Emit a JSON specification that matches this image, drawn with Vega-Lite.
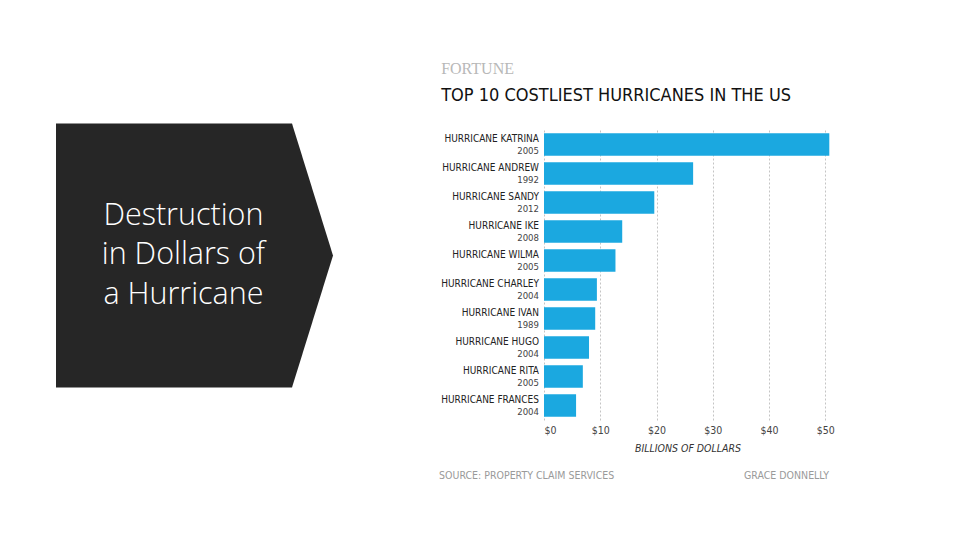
{
  "$schema": "https://vega.github.io/schema/vega-lite/v6.json",
  "background": "white",
  "padding": {"left": 56, "top": 60, "right": 0, "bottom": 0},
  "config": {"view": {"stroke": null}},
  "datasets": {
    "hurricanes": [
      {"name": "HURRICANE KATRINA", "year": "2005", "cost": 50.7},
      {"name": "HURRICANE ANDREW", "year": "1992", "cost": 26.5},
      {"name": "HURRICANE SANDY", "year": "2012", "cost": 19.6},
      {"name": "HURRICANE IKE", "year": "2008", "cost": 13.9},
      {"name": "HURRICANE WILMA", "year": "2005", "cost": 12.7},
      {"name": "HURRICANE CHARLEY", "year": "2004", "cost": 9.4},
      {"name": "HURRICANE IVAN", "year": "1989", "cost": 9.1},
      {"name": "HURRICANE HUGO", "year": "2004", "cost": 8.0},
      {"name": "HURRICANE RITA", "year": "2005", "cost": 6.9},
      {"name": "HURRICANE FRANCES", "year": "2004", "cost": 5.7}
    ],
    "shape": [
      {"px": 0, "top": 0, "bottom": 1},
      {"px": 0.852, "top": 0, "bottom": 1},
      {"px": 1, "top": 0.5, "bottom": 0.5}
    ],
    "caption": [
      {"caption": "Destruction\nin Dollars of\na Hurricane"}
    ],
    "footer": [
      {"note": "SOURCE: PROPERTY CLAIM SERVICES", "side": "left"},
      {"note": "GRACE DONNELLY", "side": "right"}
    ]
  },
  "spacing": 106,
  "hconcat": [
    {
      "width": 277,
      "height": 290,
      "layer": [
        {
          "data": {"name": "shape"},
          "mark": {"type": "area", "color": "#262626", "opacity": 1, "interpolate": "linear"},
          "encoding": {
            "x": {"field": "px", "type": "quantitative", "scale": {"domain": [0, 1], "nice": false, "zero": false}, "axis": null},
            "y": {"field": "top", "type": "quantitative", "scale": {"domain": [0.02462, 1.1231], "nice": false, "zero": false, "reverse": true}, "axis": null},
            "y2": {"field": "bottom"}
          }
        },
        {
          "data": {"name": "caption"},
          "mark": {"type": "text", "lineBreak": "\n", "font": "Open Sans", "fontWeight": 300, "fontSize": 30.5, "color": "#ffffff", "lineHeight": 39.5, "align": "center", "baseline": "middle"},
          "encoding": {
            "text": {"field": "caption"},
            "x": {"datum": 0.46, "type": "quantitative"},
            "y": {"datum": 0.3485, "type": "quantitative"}
          }
        }
      ]
    },
    {
      "spacing": 15.5,
      "vconcat": [
        {
          "width": 287,
          "height": 290,
          "data": {"name": "hurricanes"},
          "title": {
            "text": "FORTUNE",
            "subtitle": "TOP 10 COSTLIEST HURRICANES IN THE US",
            "anchor": "start",
            "frame": "bounds",
            "font": "Liberation Serif",
            "fontSize": 16,
            "fontWeight": "normal",
            "color": "#b8b8b8",
            "subtitleFont": "DejaVu Sans Condensed, sans-serif",
            "subtitleFontSize": 18,
            "subtitleColor": "#111111",
            "subtitlePadding": 10,
            "offset": 25.5
          },
          "encoding": {
            "y": {"field": "name", "type": "nominal", "sort": null, "axis": null, "scale": {"paddingInner": 0.22, "paddingOuter": 0.11}}
          },
          "layer": [
            {
              "mark": {"type": "bar", "color": "#1ba8e0"},
              "encoding": {
                "x": {
                  "field": "cost", "type": "quantitative",
                  "scale": {"domain": [0, 51], "nice": false},
                  "axis": {
                    "values": [0, 10, 20, 30, 40, 50],
                    "labelExpr": "'$' + datum.value",
                    "grid": true, "gridDash": [2, 2], "gridColor": "#c4c4c4",
                    "domain": false, "ticks": false,
                    "labelFont": "DejaVu Sans Condensed, sans-serif",
                    "labelFontSize": 10.5, "labelColor": "#444444", "labelPadding": 5,
                    "title": "BILLIONS OF DOLLARS",
                    "titleFont": "DejaVu Sans Condensed, sans-serif",
                    "titleFontStyle": "italic", "titleFontWeight": "normal",
                    "titleFontSize": 10.5, "titleColor": "#333333", "titlePadding": 8
                  }
                }
              }
            },
            {
              "mark": {"type": "text", "align": "right", "baseline": "middle", "dx": -5, "dy": -6, "font": "DejaVu Sans Condensed, sans-serif", "fontSize": 10, "color": "#222222"},
              "encoding": {"x": {"datum": 0, "type": "quantitative"}, "text": {"field": "name"}}
            },
            {
              "mark": {"type": "text", "align": "right", "baseline": "middle", "dx": -5, "dy": 6, "font": "DejaVu Sans Condensed, sans-serif", "fontSize": 9.5, "color": "#444444"},
              "encoding": {"x": {"datum": 0, "type": "quantitative"}, "text": {"field": "year"}}
            }
          ]
        },
        {
          "width": 285,
          "height": 12,
          "data": {"name": "footer"},
          "layer": [
            {
              "transform": [{"filter": "datum.side === 'left'"}],
              "mark": {"type": "text", "align": "left", "baseline": "middle", "font": "DejaVu Sans Condensed, sans-serif", "fontSize": 10.5, "color": "#9a9a9a"},
              "encoding": {"x": {"datum": -0.368, "type": "quantitative", "scale": {"domain": [0, 1], "nice": false, "zero": false}, "axis": null}, "text": {"field": "note"}}
            },
            {
              "transform": [{"filter": "datum.side === 'right'"}],
              "mark": {"type": "text", "align": "right", "baseline": "middle", "font": "DejaVu Sans Condensed, sans-serif", "fontSize": 10.5, "color": "#9a9a9a"},
              "encoding": {"x": {"datum": 1, "type": "quantitative"}, "text": {"field": "note"}}
            }
          ]
        }
      ]
    }
  ]
}
